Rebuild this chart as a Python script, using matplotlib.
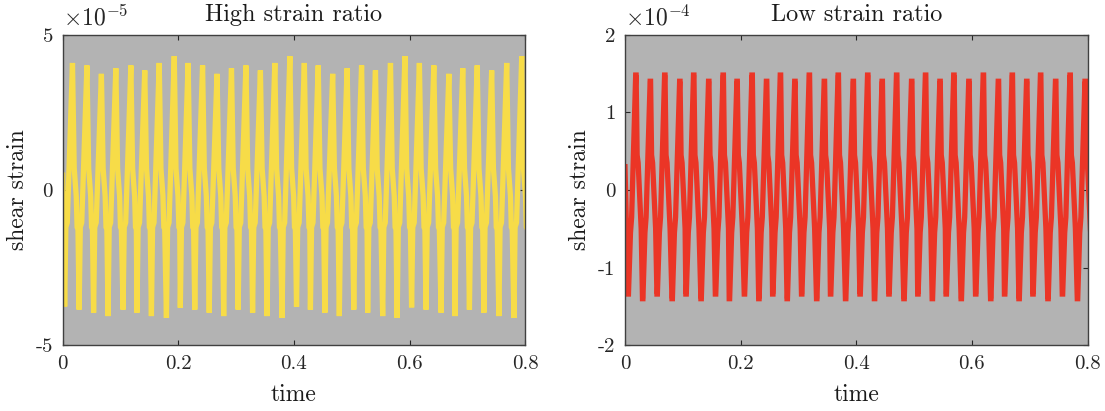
import matplotlib.pyplot as plt
import numpy as np

plt.rcParams['font.family'] = 'serif'
plt.rcParams['font.serif'] = ['cmr10']
plt.rcParams['mathtext.fontset'] = 'cm'
plt.rcParams['axes.unicode_minus'] = False

period = 0.025

# High strain ratio, values in units of 1e-5
high_peak_t = [0.017, 0.042, 0.067, 0.092, 0.118, 0.142, 0.167, 0.193,
               0.217, 0.242, 0.267, 0.292, 0.317, 0.342, 0.367, 0.393,
               0.418, 0.442, 0.467, 0.492, 0.517, 0.541, 0.567, 0.592,
               0.617, 0.642, 0.668, 0.692, 0.717, 0.742, 0.768, 0.794]
high_peak = [4.09, 4.01, 3.74, 3.92, 4.01, 3.85, 4.09, 4.31,
             4.09, 4.01, 3.74, 3.92, 4.01, 3.85, 4.09, 4.31,
             4.09, 4.01, 3.74, 3.92, 4.01, 3.85, 4.09, 4.31,
             4.09, 4.01, 3.74, 3.92, 4.01, 3.85, 4.09, 4.31]
high_trough = [-3.75, -3.85, -3.95, -4.06, -3.85, -3.95, -4.06, -4.12,
               -3.79, -3.85, -3.95, -4.06, -3.85, -3.95, -4.06, -4.12,
               -3.76, -3.85, -3.95, -4.06, -3.85, -3.95, -4.06, -4.12,
               -3.78, -3.85, -3.95, -4.06, -3.85, -3.95, -4.06, -4.12]
high_start = 0.48
# cycle outline: (offset from peak in periods, level)
high_shape = [(-0.54, 'trough'), (-0.46, -1.2), (-0.36, -1.05), (0.0, 'peak'),
              (0.12, 0.7), (0.26, -0.2), (0.32, -1.2), (0.38, -1.25)]

# Low strain ratio, values in units of 1e-4
low_peak_t = [0.019, 0.044, 0.069, 0.095, 0.119, 0.145, 0.170, 0.194,
              0.220, 0.245, 0.269, 0.294, 0.319, 0.345, 0.369, 0.395,
              0.420, 0.445, 0.470, 0.496, 0.520, 0.545, 0.569, 0.595,
              0.620, 0.646, 0.670, 0.695, 0.719, 0.745, 0.770, 0.796]
low_peak = [1.48, 1.40] * 16
low_trough = [-1.34, -1.40] * 16
low_start = 0.30
low_shape = [(-0.55, 'trough'), (-0.52, 'trough'), (-0.38, -0.55), (-0.30, -0.35),
             (-0.02, 'peak'), (0.01, 'peak'), (0.08, 0.45), (0.15, 0.35), (0.36, -0.5)]


def build(start, peak_t, peaks, troughs, shape):
    t = [0.0]
    y = [start]
    for tp, p, tr in zip(peak_t, peaks, troughs):
        for off, lev in shape:
            t.append(tp + off * period)
            if lev == 'peak':
                y.append(p)
            elif lev == 'trough':
                y.append(tr)
            else:
                y.append(lev)
    return np.array(t), np.array(y)


fig = plt.figure(figsize=(11.05, 4.11), dpi=100)
ax1 = fig.add_axes([0.0567, 0.1599, 0.4186, 0.7557])
ax2 = fig.add_axes([0.5656, 0.1599, 0.4186, 0.7557])

panels = [
    (ax1, build(high_start, high_peak_t, high_peak, high_trough, high_shape),
     '#F7DC48', 'High strain ratio', [-5, 0, 5], ['-5', '0', '5'], r'$\times10^{-5}$'),
    (ax2, build(low_start, low_peak_t, low_peak, low_trough, low_shape),
     '#EB3526', 'Low strain ratio', [-2, -1, 0, 1, 2], ['-2', '-1', '0', '1', '2'], r'$\times10^{-4}$'),
]

for ax, (t, y), col, title, yt, ytl, mult in panels:
    ax.set_facecolor('#B3B3B3')
    ax.plot(t, y, color=col, lw=3.8, solid_joinstyle='miter')
    ax.set_xlim(0, 0.8)
    ax.set_ylim(yt[0], yt[-1])
    ax.set_xticks([0, 0.2, 0.4, 0.6, 0.8])
    ax.set_xticklabels(['0', '0.2', '0.4', '0.6', '0.8'])
    ax.set_yticks(yt)
    ax.set_yticklabels(ytl)
    ax.tick_params(direction='in', top=True, right=True, length=3.5, width=0.8,
                   labelsize=15, colors='#262626', pad=7)
    for s in ax.spines.values():
        s.set_color('#404040')
        s.set_linewidth(1.0)
    ax.set_title(title, fontsize=17.5, color='#1a1a1a', pad=10)
    ax.set_xlabel('time', fontsize=17, color='#1a1a1a', labelpad=8)
    ax.set_ylabel('shear strain', fontsize=17, color='#1a1a1a', labelpad=5)
    ax.annotate(mult, xy=(0, 1), xycoords='axes fraction', xytext=(0, 3),
                textcoords='offset points', fontsize=17, color='#262626',
                ha='left', va='bottom')

fig.savefig('out.png', dpi=100)
